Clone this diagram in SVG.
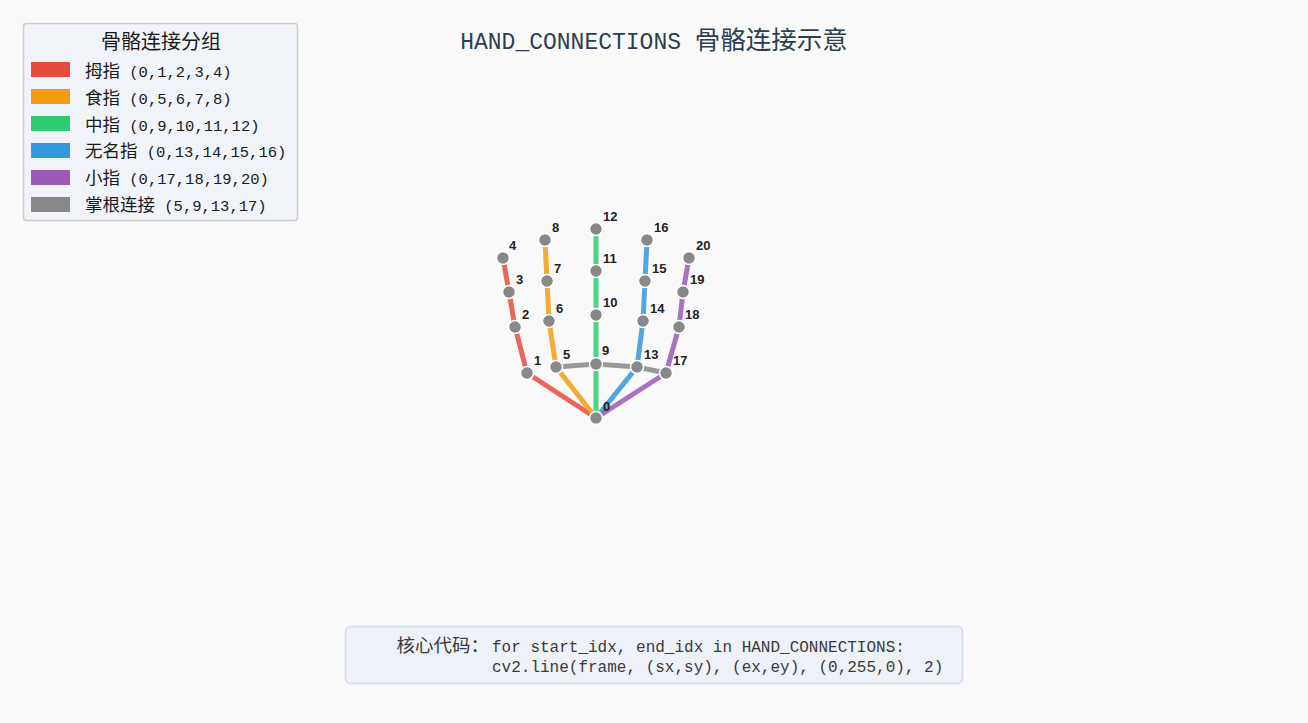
<svg xmlns="http://www.w3.org/2000/svg" width="1308" height="723" viewBox="0 0 1308 723">
<style>
.cjk{font-family:"Noto Sans CJK SC","Noto Sans",sans-serif}
.mono{font-family:"Liberation Mono","DejaVu Sans Mono","Noto Sans CJK SC",monospace}
.lg{font-size:17.5px;fill:#1a1a1a}
.lg .a{font-family:"Liberation Mono","DejaVu Sans Mono",monospace;font-size:15.5px}
.bone{stroke-width:5;fill:none;stroke-opacity:0.85;stroke-linecap:butt}
.th{stroke:#e74c3c}.ix{stroke:#f39c12}.md{stroke:#2ecc71}.rg{stroke:#3498db}.pk{stroke:#9b59b6}.pm{stroke:#888888}
.kp circle{fill:#888888;stroke:#ffffff;stroke-width:1.5}
.kp text{font-family:"Liberation Sans","DejaVu Sans",sans-serif;font-size:13px;font-weight:bold;fill:#222222}
</style>
<rect x="0" y="0" width="1308" height="723" fill="#f9f9fa"/>

<g id="title">
<text x="654" y="49" text-anchor="middle" fill="#2c3e50"><tspan class="mono" font-size="23">HAND_CONNECTIONS </tspan><tspan class="cjk" font-size="25.5">骨骼连接示意</tspan></text>
</g>

<g id="legend">
<rect x="23.5" y="23.5" width="274" height="197" rx="3" fill="#f0f3f7" stroke="#cccccc" stroke-width="1.5"/>
<text class="cjk" x="161" y="49" font-size="20" text-anchor="middle" fill="#1a1a1a">骨骼连接分组</text>
<rect x="31" y="62" width="39" height="15" fill="#e74c3c"/>
<rect x="31" y="89" width="39" height="15" fill="#f39c12"/>
<rect x="31" y="116" width="39" height="15" fill="#2ecc71"/>
<rect x="31" y="143" width="39" height="15" fill="#3498db"/>
<rect x="31" y="170" width="39" height="15" fill="#9b59b6"/>
<rect x="31" y="197" width="39" height="15" fill="#888888"/>
<text class="cjk lg" x="85" y="77">拇指<tspan class="a"> (0,1,2,3,4)</tspan></text>
<text class="cjk lg" x="85" y="104">食指<tspan class="a"> (0,5,6,7,8)</tspan></text>
<text class="cjk lg" x="85" y="130.5">中指<tspan class="a"> (0,9,10,11,12)</tspan></text>
<text class="cjk lg" x="85" y="157">无名指<tspan class="a"> (0,13,14,15,16)</tspan></text>
<text class="cjk lg" x="85" y="184">小指<tspan class="a"> (0,17,18,19,20)</tspan></text>
<text class="cjk lg" x="85" y="211">掌根连接<tspan class="a"> (5,9,13,17)</tspan></text>
</g>

<g id="connectors">
<polyline class="bone th" points="596,418 527,373 515,327 509,292 503,258"/>
<polyline class="bone ix" points="596,418 556,367 549,321 547,281 545,240"/>
<polyline class="bone md" points="596,418 596,364 596,315 596,271 596,229"/>
<polyline class="bone rg" points="596,418 637,367 643,321 645,281 647,240"/>
<polyline class="bone pk" points="596,418 666,373 679,327 683,292 689,258"/>
<polyline class="bone pm" points="556,367 596,364 637,367 666,373"/>
</g>

<g class="kp">
<g id="kp0"><circle cx="596" cy="418" r="6.5"/><text x="603" y="411">0</text></g>
<g id="kp1"><circle cx="527" cy="373" r="6.5"/><text x="534" y="365">1</text></g>
<g id="kp2"><circle cx="515" cy="327" r="6.5"/><text x="522" y="319">2</text></g>
<g id="kp3"><circle cx="509" cy="292" r="6.5"/><text x="516" y="284">3</text></g>
<g id="kp4"><circle cx="503" cy="258" r="6.5"/><text x="509" y="250">4</text></g>
<g id="kp5"><circle cx="556" cy="367" r="6.5"/><text x="563" y="359">5</text></g>
<g id="kp6"><circle cx="549" cy="321" r="6.5"/><text x="556" y="313">6</text></g>
<g id="kp7"><circle cx="547" cy="281" r="6.5"/><text x="554" y="273">7</text></g>
<g id="kp8"><circle cx="545" cy="240" r="6.5"/><text x="552" y="232">8</text></g>
<g id="kp9"><circle cx="596" cy="364" r="6.5"/><text x="602" y="355">9</text></g>
<g id="kp10"><circle cx="596" cy="315" r="6.5"/><text x="603" y="307">10</text></g>
<g id="kp11"><circle cx="596" cy="271" r="6.5"/><text x="603" y="263">11</text></g>
<g id="kp12"><circle cx="596" cy="229" r="6.5"/><text x="603" y="221">12</text></g>
<g id="kp13"><circle cx="637" cy="367" r="6.5"/><text x="644" y="359">13</text></g>
<g id="kp14"><circle cx="643" cy="321" r="6.5"/><text x="650" y="313">14</text></g>
<g id="kp15"><circle cx="645" cy="281" r="6.5"/><text x="652" y="273">15</text></g>
<g id="kp16"><circle cx="647" cy="240" r="6.5"/><text x="654" y="232">16</text></g>
<g id="kp17"><circle cx="666" cy="373" r="6.5"/><text x="673" y="365">17</text></g>
<g id="kp18"><circle cx="679" cy="327" r="6.5"/><text x="685" y="319">18</text></g>
<g id="kp19"><circle cx="683" cy="292" r="6.5"/><text x="690" y="284">19</text></g>
<g id="kp20"><circle cx="689" cy="258" r="6.5"/><text x="696" y="250">20</text></g>
</g>

<g id="code">
<rect x="345.5" y="626.5" width="617" height="57" rx="5" fill="#eef2f8" stroke="#d3dde9" stroke-width="1.5"/>
<text class="cjk" x="489" y="652" font-size="18.5" text-anchor="end" fill="#3a3a3a">核心代码：</text>
<text class="mono" x="492" y="652" font-size="16" fill="#3a3a3a">for start_idx, end_idx in HAND_CONNECTIONS:</text>
<text class="mono" x="492" y="672" font-size="16" fill="#3a3a3a">cv2.line(frame, (sx,sy), (ex,ey), (0,255,0), 2)</text>
</g>
</svg>
